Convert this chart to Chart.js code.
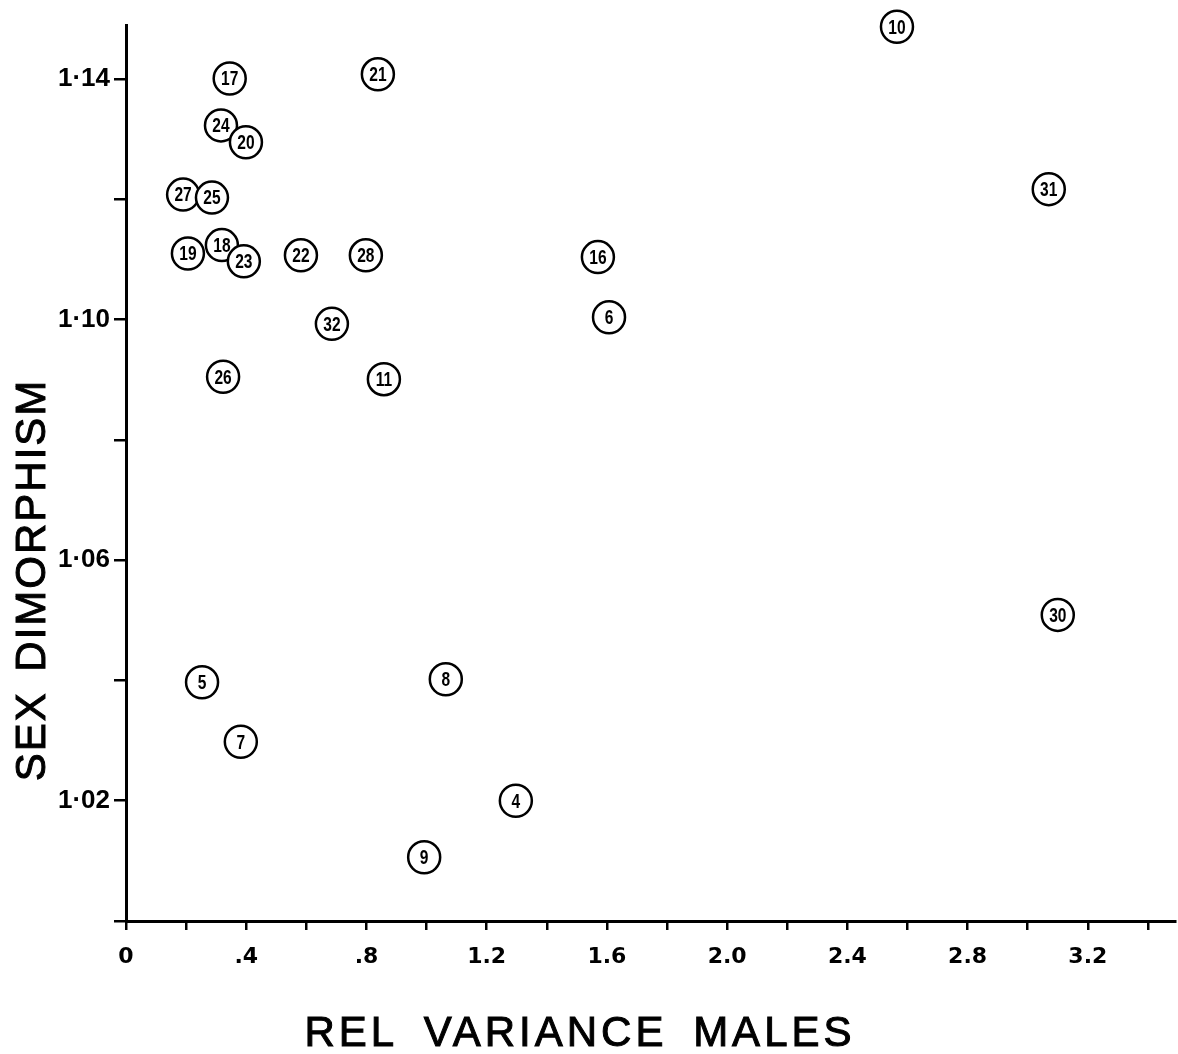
<!DOCTYPE html>
<html>
<head>
<meta charset="utf-8">
<title>Sex dimorphism vs rel variance males</title>
<script src="https://cdn.jsdelivr.net/npm/chart.js@4.4.0/dist/chart.umd.min.js"></script>
<style>
    html, body { margin: 0; padding: 0; background: #fff; }
    canvas { display: block; }
</style>
</head>
<body>
<canvas id="chart" width="1178" height="1054"></canvas>
<script>
// --- values ---
const pointLabels = ['10', '17', '21', '24', '20', '27', '25', '31', '19', '18', '23', '22',
                     '28', '16', '6', '32', '26', '11', '30', '5', '8', '7', '4', '9'];
const relVarianceMales = [2.565, 0.345, 0.838, 0.316, 0.399, 0.190, 0.286, 3.070, 0.206, 0.319, 0.392, 0.582,
                          0.798, 1.570, 1.607, 0.685, 0.323, 0.858, 3.100, 0.253, 1.064, 0.382, 1.297, 0.992];
const sexDimorphism = [1.1487, 1.1401, 1.1408, 1.1323, 1.1295, 1.1208, 1.1203, 1.1217, 1.1110, 1.1124, 1.1097, 1.1107,
                       1.1107, 1.1104, 1.1004, 1.0993, 1.0905, 1.0901, 1.0509, 1.0397, 1.0402, 1.0298, 1.0200, 1.0106];

const xTicks = [0, 0.2, 0.4, 0.6, 0.8, 1.0, 1.2, 1.4, 1.6, 1.8, 2.0, 2.2, 2.4, 2.6, 2.8, 3.0, 3.2, 3.4];
const xTickLabels = ['0', '', '.4', '', '.8', '', '1.2', '', '1.6', '', '2.0', '', '2.4', '', '2.8', '', '3.2', ''];
const yTicks = [1.00, 1.02, 1.04, 1.06, 1.08, 1.10, 1.12, 1.14];
const yTickLabels = ['', '1·02', '', '1·06', '', '1·10', '', '1·14'];

const FONT = '"Liberation Sans", Arial, sans-serif';

// numbers written inside the circles (narrow hand lettering)
const circleNumbers = {
    id: 'circleNumbers',
    afterDatasetsDraw(chart) {
        const ctx = chart.ctx;
        const meta = chart.getDatasetMeta(0);
        ctx.save();
        ctx.fillStyle = '#000';
        ctx.font = 'bold 21px ' + FONT;
        ctx.textAlign = 'center';
        ctx.textBaseline = 'middle';
        meta.data.forEach((pt, i) => {
            ctx.save();
            ctx.translate(pt.x, pt.y + 1);
            ctx.scale(0.74, 1);
            ctx.fillText(pointLabels[i], 0, 0);
            ctx.restore();
        });
        ctx.restore();
    }
};

// axis titles, spaced out like the lettering
const axisTitles = {
    id: 'axisTitles',
    afterDraw(chart) {
        const ctx = chart.ctx;
        ctx.save();
        ctx.fillStyle = '#000';
        ctx.strokeStyle = '#000';
        ctx.lineWidth = 1;
        ctx.textAlign = 'center';
        ctx.textBaseline = 'middle';
        ctx.font = '42px ' + FONT;
        ctx.letterSpacing = '4px';
        ctx.wordSpacing = '10px';
        ctx.fillText('REL VARIANCE MALES', 580, 1034);
        ctx.strokeText('REL VARIANCE MALES', 580, 1034);

        ctx.letterSpacing = '2px';
        ctx.wordSpacing = '6px';
        ctx.translate(33, 580);
        ctx.rotate(-Math.PI / 2);
        ctx.fillText('SEX DIMORPHISM', 0, 0);
        ctx.strokeText('SEX DIMORPHISM', 0, 0);
        ctx.restore();
    }
};

const points = relVarianceMales.map((x, i) => ({ x: x, y: sexDimorphism[i] }));

new Chart(document.getElementById('chart'), {
    type: 'scatter',
    data: {
        datasets: [{
            data: points,
            pointRadius: 16,
            pointBorderWidth: 2.5,
            pointBorderColor: '#000',
            pointBackgroundColor: '#fff',
            pointHoverRadius: 16,
            clip: false
        }]
    },
    options: {
        responsive: false,
        animation: false,
        events: [],
        layout: {
            autoPadding: false,
            padding: { top: 25, right: 3, left: 0, bottom: 0 }
        },
        plugins: {
            legend: { display: false },
            tooltip: { enabled: false }
        },
        scales: {
            x: {
                type: 'linear',
                min: 0,
                max: 3.49,
                afterBuildTicks: s => { s.ticks = xTicks.map(v => ({ value: v })); },
                afterFit: s => { s.height = 133; },
                grid: { drawOnChartArea: false, drawTicks: true, tickLength: 9, color: '#000', lineWidth: 2.5 },
                border: { display: true, color: '#000', width: 3 },
                ticks: {
                    callback: (v, i) => xTickLabels[i],
                    color: '#000',
                    font: { family: '"DejaVu Sans", sans-serif', size: 22, weight: 'bold' },
                    padding: 14,
                    maxRotation: 0,
                    autoSkip: false
                }
            },
            y: {
                type: 'linear',
                min: 1.0,
                max: 1.149,
                afterBuildTicks: s => { s.ticks = yTicks.map(v => ({ value: v })); },
                afterFit: s => { s.width = 126; },
                grid: { drawOnChartArea: false, drawTicks: true, tickLength: 12, color: '#000', lineWidth: 2.5 },
                border: { display: true, color: '#000', width: 3 },
                ticks: {
                    callback: (v, i) => yTickLabels[i],
                    color: '#000',
                    font: { family: FONT, size: 26, weight: 'bold' },
                    padding: 4,
                    autoSkip: false
                }
            }
        }
    },
    plugins: [circleNumbers, axisTitles]
});
</script>
</body>
</html>
